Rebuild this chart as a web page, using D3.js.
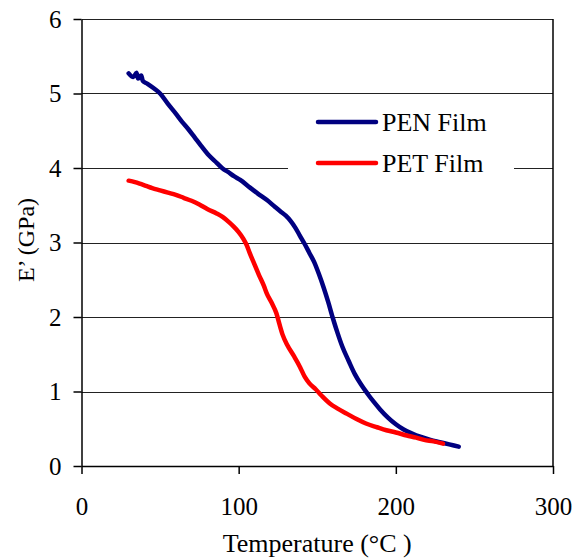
<!DOCTYPE html>
<html>
<head>
<meta charset="utf-8">
<title>E' vs Temperature</title>
<script src="https://d3js.org/d3.v7.min.js"></script>
<style>
  body { margin: 0; background: #fff; }
  text { font-family: "Liberation Serif", "Times New Roman", serif; fill: #000; }
</style>
</head>
<body>
<svg id="chart" width="573" height="560"></svg>
<script>
// data
const penT = [30, 33, 35, 36, 38, 39, 42, 46, 50, 55, 60, 64, 68, 72, 76, 81, 86, 90, 93, 97, 101, 107, 112, 118, 123, 127, 130, 133, 136, 139, 142, 145, 148, 151, 154, 157, 160, 163, 166, 170, 174, 178, 182, 186, 190, 195, 200, 205, 210, 216, 222, 228, 234, 240]
const penE = [5.27, 5.22, 5.28, 5.20, 5.24, 5.17, 5.13, 5.07, 5.00, 4.86, 4.73, 4.62, 4.52, 4.41, 4.30, 4.17, 4.07, 3.99, 3.95, 3.89, 3.84, 3.74, 3.66, 3.57, 3.48, 3.41, 3.36, 3.29, 3.20, 3.09, 2.98, 2.86, 2.74, 2.58, 2.40, 2.20, 1.98, 1.78, 1.60, 1.41, 1.23, 1.09, 0.97, 0.86, 0.76, 0.65, 0.56, 0.49, 0.44, 0.39, 0.35, 0.32, 0.29, 0.26]
const petT = [30, 34, 37, 41, 45, 50, 55, 60, 65, 70, 75, 80, 86, 90, 94, 97, 100, 103, 105, 107, 110, 113, 116, 118, 121, 124, 126, 128, 131, 135, 139, 142, 145, 149, 153, 158, 163, 169, 175, 181, 188, 194, 200, 207, 213, 218, 224, 230]
const petE = [3.83, 3.81, 3.79, 3.76, 3.73, 3.70, 3.67, 3.64, 3.60, 3.56, 3.51, 3.45, 3.39, 3.34, 3.27, 3.21, 3.14, 3.05, 2.97, 2.86, 2.71, 2.56, 2.42, 2.31, 2.19, 2.05, 1.90, 1.76, 1.62, 1.48, 1.33, 1.20, 1.11, 1.03, 0.94, 0.84, 0.77, 0.70, 0.63, 0.57, 0.52, 0.48, 0.45, 0.41, 0.38, 0.35, 0.33, 0.30]
const xTicks = [0, 100, 200, 300]
const yTicks = [0, 1, 2, 3, 4, 5, 6]
const seriesNames = ["PEN Film", "PET Film"]
const seriesColors = ["#000080", "#ff0000"]

const serif = '"Liberation Serif", "Times New Roman", serif'
const svg = d3.select("#chart")
const plotLeft = 81.5, plotRight = 553, plotTop = 19, plotBottom = 466

const x = d3.scaleLinear().domain([0, 300]).range([plotLeft, plotRight])
const y = d3.scaleLinear().domain([0, 6]).range([plotBottom, plotTop])

// gridlines
svg.append("g")
  .selectAll("line")
  .data(yTicks.filter(d => d > 0))
  .enter()
  .append("line")
  .attr("x1", plotLeft).attr("x2", plotRight)
  .attr("y1", d => Math.round(y(d)) + 0.5).attr("y2", d => Math.round(y(d)) + 0.5)
  .attr("stroke", "#222")
  .attr("stroke-width", 1)

// right border
svg.append("line")
  .attr("x1", plotRight).attr("x2", plotRight)
  .attr("y1", plotTop).attr("y2", plotBottom)
  .attr("stroke", "#000").attr("stroke-width", 1.5)

// legend background (covers gridlines)
svg.append("rect")
  .attr("x", 288).attr("y", 100)
  .attr("width", 226).attr("height", 88)
  .attr("fill", "#fff")

const yAxis = d3.axisLeft(y).tickValues(yTicks).tickFormat(d3.format("d"))
  .tickSize(8).tickSizeOuter(0).tickPadding(12)
const xAxis = d3.axisBottom(x).tickValues(xTicks).tickFormat(d3.format("d"))
  .tickSize(8).tickSizeOuter(0).tickPadding(23)

const gy = svg.append("g").attr("transform", `translate(${plotLeft},0)`).call(yAxis)
const gx = svg.append("g").attr("transform", `translate(0,${plotBottom})`).call(xAxis)

for (const g of [gx, gy]) {
  g.attr("font-family", serif).attr("font-size", 25)
  g.selectAll("path, line").attr("stroke", "#000").attr("stroke-width", 1.5)
  g.selectAll("text").style("font-size", "25px").style("font-family", serif)
}

// axis titles
svg.append("text")
  .attr("x", (plotLeft + plotRight) / 2)
  .attr("y", 552)
  .attr("text-anchor", "middle")
  .style("font-size", "26px")
  .text("Temperature (°C )")

svg.append("text")
  .attr("transform", "translate(34,240) rotate(-90)")
  .attr("text-anchor", "middle")
  .style("font-size", "24px")
  .text("E’ (GPa)")

// curves
const line = d3.line()
  .x(d => x(d[0]))
  .y(d => y(d[1]))
  .curve(d3.curveMonotoneX)

const series = [
  penT.map((t, i) => [t, penE[i]]),
  petT.map((t, i) => [t, petE[i]])
]

svg.append("g")
  .selectAll("path")
  .data(series)
  .enter()
  .append("path")
  .attr("d", line)
  .attr("fill", "none")
  .attr("stroke", (d, i) => seriesColors[i])
  .attr("stroke-width", 4.5)
  .attr("stroke-linecap", "round")
  .attr("stroke-linejoin", "round")

// legend
const lg = svg.append("g")
  .selectAll("g")
  .data(seriesNames)
  .enter()
  .append("g")
  .attr("transform", (d, i) => `translate(0,${122 + i * 41})`)

lg.append("line")
  .attr("x1", 318).attr("x2", 376)
  .attr("stroke", (d, i) => seriesColors[i])
  .attr("stroke-width", 4.5)
  .attr("stroke-linecap", "round")

lg.append("text")
  .attr("x", 382)
  .attr("y", 9)
  .style("font-size", "26px")
  .text(d => d)
</script>
</body>
</html>
